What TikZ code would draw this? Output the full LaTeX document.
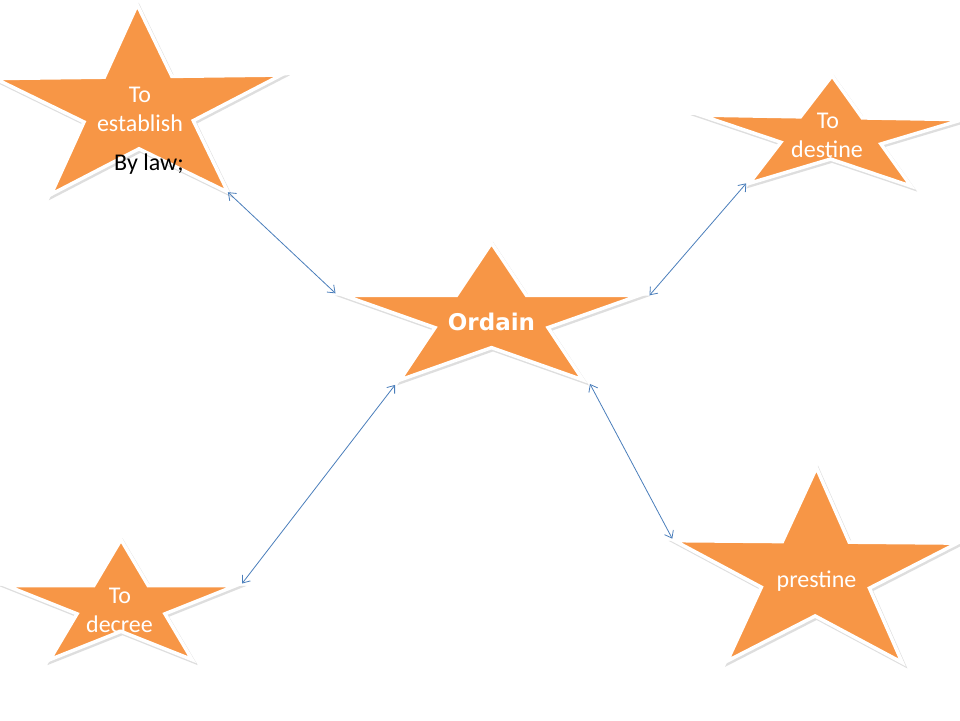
\documentclass[tikz,border=0pt]{standalone}
\usepackage{fontspec}
\setmainfont{Carlito}
\newfontfamily\ordfont{DejaVu Sans}
\usetikzlibrary{arrows.meta,calc}
\definecolor{starorange}{HTML}{F79646}
\definecolor{linkblue}{HTML}{4A7EBB}
\tikzset{
  starbody/.style={fill=starorange, draw=white, line width=3.5pt, line join=miter},
  starshadow/.style={fill=black!13, draw=black!13, line width=3.5pt},
  lbl/.style={text=white, font=\fontsize{24}{28}\selectfont, inner sep=0pt, anchor=base},
  note/.style={text=black, font=\fontsize{24}{28}\selectfont, inner sep=0pt, anchor=base},
  ordlbl/.style={text=white, font=\ordfont\bfseries\fontsize{23}{27}\selectfont, inner sep=0pt, anchor=base},
  link/.style={draw=linkblue, line width=0.8pt, {Straight Barb[length=6.5pt,width=10pt]}-{Straight Barb[length=6.5pt,width=10pt]}}
}
\newcommand\mkstar[6]{%
  \begin{scope}[shift={(#2+1.5,#3+2)}, rotate=#6, xscale=#4, yscale=-#5]
    \draw[starshadow] (90:1) -- (126:0.382) -- (162:1) -- (198:0.382) -- (234:1) -- (270:0.382) -- (306:1) -- (342:0.382) -- (18:1) -- (54:0.382) -- cycle;
  \end{scope}
  \begin{scope}[shift={(#2,#3)}, rotate=#6, xscale=#4, yscale=-#5]
    \draw[starbody] (90:1) -- (126:0.382) -- (162:1) -- (198:0.382) -- (234:1) -- (270:0.382) -- (306:1) -- (342:0.382) -- (18:1) -- (54:0.382) -- cycle;
    \coordinate (#1-o1) at (90:1);
    \coordinate (#1-o2) at (162:1);
    \coordinate (#1-o3) at (234:1);
    \coordinate (#1-o4) at (306:1);
    \coordinate (#1-o5) at (18:1);
  \end{scope}}
\begin{document}
\begin{tikzpicture}[x=1pt, y=-1pt]
  \useasboundingbox[fill=white] (0,0) rectangle (960,720);
  % stars
  \mkstar{est}{138.5}{109}{150.4}{104.2}{0.7}
  \mkstar{des}{831}{136}{137.7}{60.3}{-1}
  \mkstar{ord}{491.5}{318.7}{155.6}{75.7}{0}
  \mkstar{pre}{815.5}{575}{148.8}{107.2}{-0.5}
  \mkstar{dec}{121}{606}{121}{66.3}{0}
  % labels
  \node[lbl] (est1) at (140,102) {To};
  \node[lbl] (est2) at (140,131) {establish};
  \node[note] (law) at (149,170) {By law;};
  \node[lbl] (des1) at (828,128) {To};
  \node[lbl] (des2) at (827,157) {destine};
  \node[ordlbl] (ordt) at (491.5,330) {Ordain};
  \node[lbl] (pret) at (816.5,587) {prestine};
  \node[lbl] (dec1) at (120,603) {To};
  \node[lbl] (dec2) at (119.5,632) {decree};
  % connectors
  \draw[link] (est-o4) -- ($(ord-o2)+(-8,-2)$);
  \draw[link] ($(ord-o5)+(10,0)$) -- ($(des-o3)+(-3,0)$);
  \draw[link] ($(ord-o3)+(-5,5)$) -- ($(dec-o5)+(6,-2)$);
  \draw[link] ($(ord-o4)+(7,4)$) -- ($(pre-o2)+(-2,-2)$);
\end{tikzpicture}
\end{document}
